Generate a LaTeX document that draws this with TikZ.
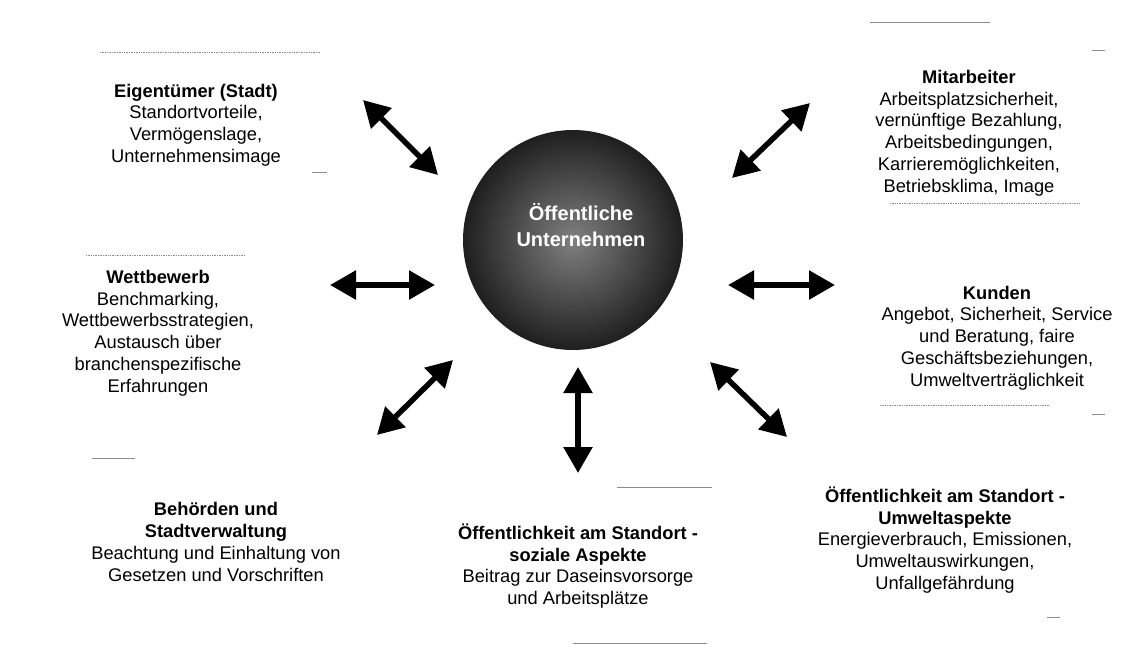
\documentclass[tikz,border=0pt]{standalone}
\usepackage{fontspec}
\setmainfont{Liberation Sans}
\usetikzlibrary{arrows.meta}
\begin{document}
\begin{tikzpicture}[x=1pt,y=-1pt,
  txt/.style={align=center,font=\fontsize{18.3}{21.8}\selectfont,inner sep=0pt},
  bigarrow/.style={line width=5.5pt,{Triangle[length=26pt,width=28pt]}-{Triangle[length=26pt,width=28pt]}},
  faint/.style={draw=black!45,line width=0.7pt}]
\useasboundingbox (0,0) rectangle (1122,648);
\fill[white] (0,0) rectangle (1122,648);

% central circle
\shade[inner color=black!50,outer color=black!88] (573,240) circle[radius=110];
\node[txt,text=white,font=\fontsize{20}{26}\selectfont\bfseries] (core) at (581,225)
  {Öffentliche\\Unternehmen};

% stakeholder texts
\node[txt] (eig) at (196,125) {\textbf{Eigentümer (Stadt)}\\Standortvorteile,\\Vermögenslage,\\Unternehmensimage};
\node[txt] (mit) at (969,133) {\textbf{Mitarbeiter}\\Arbeitsplatzsicherheit,\\vernünftige Bezahlung,\\Arbeitsbedingungen,\\Karrieremöglichkeiten,\\Betriebsklima, Image};
\node[txt] (wet) at (158,333) {\textbf{Wettbewerb}\\Benchmarking,\\Wettbewerbsstrategien,\\Austausch über\\branchenspezifische\\Erfahrungen};
\node[txt] (kun) at (997,338) {\textbf{Kunden}\\Angebot, Sicherheit, Service\\und Beratung, faire\\Geschäftsbeziehungen,\\Umweltverträglichkeit};
\node[txt] (beh) at (216,542) {\textbf{Behörden und}\\\textbf{Stadtverwaltung}\\Beachtung und Einhaltung von\\Gesetzen und Vorschriften};
\node[txt] (soz) at (578,566) {\textbf{Öffentlichkeit am Standort -}\\\textbf{soziale Aspekte}\\Beitrag zur Daseinsvorsorge\\und Arbeitsplätze};
\node[txt] (umw) at (945,540) {\textbf{Öffentlichkeit am Standort -}\\\textbf{Umweltaspekte}\\Energieverbrauch, Emissionen,\\Umweltauswirkungen,\\Unfallgefährdung};

% arrow end points
\coordinate (a1s) at (363,100); \coordinate (a1e) at (438,175);
\coordinate (a2s) at (732,178); \coordinate (a2e) at (810,103);
\coordinate (a3s) at (330,285); \coordinate (a3e) at (435,285);
\coordinate (a4s) at (728,285); \coordinate (a4e) at (835,285);
\coordinate (a5s) at (377,435); \coordinate (a5e) at (453,360);
\coordinate (a6s) at (578,367); \coordinate (a6e) at (578,473);
\coordinate (a7s) at (710,362); \coordinate (a7e) at (787,437);

\foreach \i in {1,...,7} \draw[bigarrow] (a\i s) -- (a\i e);

% faint remnants of box borders
\draw[faint] (870,22) -- (990,22);
\draw[faint] (1092,50) -- (1105,50);
\draw[faint] (617,487) -- (712,487);
\draw[faint] (573,643) -- (707,643);
\draw[faint] (92,458) -- (135,458);
\draw[faint] (1047,617) -- (1060,617);
\draw[faint] (1092,414) -- (1105,414);
\draw[faint] (312,172) -- (327,172);
\draw[faint,densely dotted] (100,52) -- (320,52);
\draw[faint,densely dotted] (86,255) -- (245,255);
\draw[faint,densely dotted] (890,203) -- (1080,203);
\draw[faint,densely dotted] (880,405) -- (1050,405);
\end{tikzpicture}
\end{document}
